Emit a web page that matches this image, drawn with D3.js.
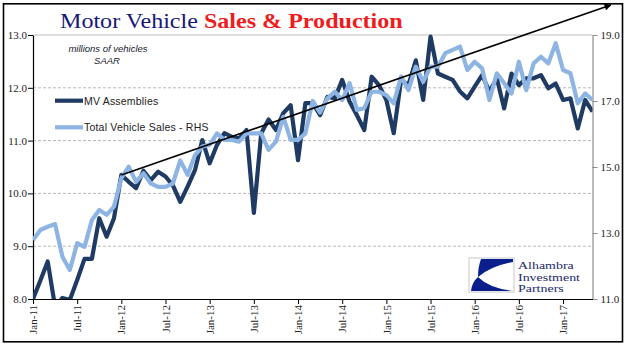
<!DOCTYPE html>
<html><head><meta charset="utf-8">
<script src="https://cdn.jsdelivr.net/npm/d3@7"></script>
<style>html,body{margin:0;padding:0;background:#fff;overflow:hidden}</style>
</head><body>
<svg id="c" width="641" height="358"></svg>
<script>
// ---- data ----
const tickLabels = ["Jan-11","Jul-11","Jan-12","Jul-12","Jan-13","Jul-13","Jan-14","Jul-14","Jan-15","Jul-15","Jan-16","Jul-16","Jan-17"];
const leftTicks = [8,9,10,11,12,13];
const rightTicks = [11,13,15,17,19];
// MV Assemblies (left axis), monthly Jan-11 .. May-17
const assemblies = [8.0,8.35,8.71,7.85,8.02,7.98,8.36,8.76,8.76,9.53,9.18,9.53,
  10.35,10.22,10.10,10.43,10.25,10.41,10.32,10.15,9.84,10.13,10.44,11.01,
  10.57,10.92,11.14,11.07,11.04,11.2,9.63,11.14,11.4,11.2,11.52,11.67,
  10.63,11.71,11.71,11.48,11.83,11.8,12.15,11.74,11.48,11.2,12.21,12.05,
  11.77,11.14,12.15,12.05,12.52,11.77,12.97,12.27,12.21,12.15,11.93,11.8,
  12.02,12.24,11.93,12.18,11.61,12.27,12.05,12.18,12.18,12.24,11.99,12.08,
  11.77,11.8,11.23,11.77,11.55];
// Total Vehicle Sales (right axis)
const sales = [12.79,13.09,13.19,13.27,12.28,11.88,12.69,12.58,13.39,13.7,13.55,13.8,
  14.66,15.01,14.55,14.81,14.5,14.4,14.4,14.5,15.2,14.76,15.36,15.62,
  15.67,16.02,15.82,15.82,15.77,16.02,16.02,16.02,15.52,15.77,16.52,15.82,
  15.82,16.02,17.0,16.65,17.08,17.28,17.03,17.54,16.73,16.78,17.28,17.28,
  17.18,16.93,17.74,17.33,18.04,17.58,18.04,18.04,18.45,18.55,18.65,17.94,
  18.19,17.99,17.03,17.84,17.54,17.23,18.19,17.33,18.14,18.34,18.14,18.75,
  17.94,17.84,16.93,17.23,17.03];
const trend = [{m:12, v:10.35},{m:78.5, v:13.57}];
const seriesNames = ["MV Assemblies","Total Vehicle Sales - RHS"];
const logoLines = ["Alhambra","Investment","Partners"];
const colors = {dark:"#1f3b63", light:"#8db4e2"};

// ---- layout ----
const svg = d3.select("#c");
const L=33, R=592.5, T=35, B=299;
const x = d3.scaleLinear().domain([0, assemblies.length-1]).range([L,R]);
const yL = d3.scaleLinear().domain([8,13]).range([B,T]);
const yR = d3.scaleLinear().domain([11,19]).range([B,T]);

svg.append("rect").attr("x",0).attr("y",0).attr("width",641).attr("height",358).attr("fill","#fff");
svg.append("rect").attr("x",3.5).attr("y",3.8).attr("width",619).attr("height",338)
  .attr("fill","none").attr("stroke","#000").attr("stroke-width",1.6);

// gridlines
svg.append("g").selectAll("line").data(leftTicks.filter(d=>d>8)).join("line")
  .attr("x1",L).attr("x2",R).attr("y1",d=>yL(d)).attr("y2",d=>yL(d))
  .attr("stroke",d=>d===13?"#bdbdbd":"#b8b8b8").attr("stroke-width",1)
  .attr("stroke-dasharray",d=>d===13?null:"3,2");

// axes
const fontSerif = "'Liberation Serif','Times New Roman',serif";
const gl = svg.append("g").attr("transform",`translate(${L},0)`)
  .call(d3.axisLeft(yL).tickValues(leftTicks).tickFormat(d3.format(".1f")).tickSize(5).tickSizeOuter(0));
gl.select(".domain").attr("stroke","#000").attr("stroke-width",1.2);
gl.selectAll(".tick line").attr("stroke","#000");
gl.selectAll("text").attr("font-family",fontSerif).attr("font-size",11).attr("fill","#222").attr("x",-6);

const gr = svg.append("g").attr("transform",`translate(${R},0)`)
  .call(d3.axisRight(yR).tickValues(rightTicks).tickFormat(d3.format(".1f")).tickSize(5).tickSizeOuter(0));
gr.select(".domain").attr("stroke","#8c8c8c").attr("stroke-width",1.2);
gr.selectAll(".tick line").attr("stroke","#8c8c8c");
gr.selectAll("text").attr("font-family",fontSerif).attr("font-size",11).attr("fill","#222").attr("x",8);

const gb = svg.append("g").attr("transform",`translate(0,${B})`)
  .call(d3.axisBottom(x).tickValues(d3.range(0, assemblies.length, 6)).tickFormat(d=>tickLabels[d/6]).tickSize(5).tickSizeOuter(0));
gb.select(".domain").attr("stroke","#000").attr("stroke-width",1.2);
gb.selectAll(".tick line").attr("stroke","#000");
gb.selectAll("text").attr("font-family",fontSerif).attr("font-size",11).attr("fill","#222")
  .attr("transform","rotate(-90)").attr("text-anchor","end").attr("x",-6).attr("y",0).attr("dy","0.33em");

// clip
svg.append("clipPath").attr("id","plot").append("rect").attr("x",L).attr("y",T-4).attr("width",R-L).attr("height",B-T+4);

const lineL = d3.line().x((d,i)=>x(i)).y(d=>yL(d));
const lineR = d3.line().x((d,i)=>x(i)).y(d=>yR(d));
const gp = svg.append("g").attr("clip-path","url(#plot)");
gp.append("path").attr("d",lineL(assemblies)).attr("fill","none").attr("stroke",colors.dark)
  .attr("stroke-width",4.2).attr("stroke-linejoin","round");
gp.append("path").attr("d",lineR(sales)).attr("fill","none").attr("stroke",colors.light)
  .attr("stroke-width",4.2).attr("stroke-linejoin","round");

// trend arrow
svg.append("defs").append("marker").attr("id","arr").attr("viewBox","0 0 10 10").attr("refX",9).attr("refY",5)
  .attr("markerWidth",8).attr("markerHeight",7).attr("orient","auto").attr("markerUnits","userSpaceOnUse")
  .append("path").attr("d","M0,0L10,5L0,10Z").attr("fill","#000");
svg.append("line").attr("x1",x(trend[0].m)).attr("y1",yL(trend[0].v)).attr("x2",x(trend[1].m)).attr("y2",yL(trend[1].v))
  .attr("stroke","#000").attr("stroke-width",1.6).attr("marker-end","url(#arr)");

// legend
const fontSans = "'Liberation Sans',Arial,sans-serif";
const lg = svg.append("g");
[[colors.dark,100.7],[colors.light,127.3]].forEach((c,i)=>{
  lg.append("line").attr("x1",55).attr("x2",83).attr("y1",c[1]).attr("y2",c[1]).attr("stroke",c[0]).attr("stroke-width",4.2);
  lg.append("text").attr("x",84).attr("y",c[1]+4).attr("font-family",fontSans).attr("font-size",10.5).attr("fill","#222")
    .attr("letter-spacing",0.2).text(seriesNames[i]);
});
svg.append("text").attr("x",108).attr("y",51.5).attr("text-anchor","middle").attr("font-family",fontSans)
  .attr("font-style","italic").attr("font-size",9.5).attr("fill","#1a1a2e").text("millions of vehicles");
svg.append("text").attr("x",107).attr("y",64).attr("text-anchor","middle").attr("font-family",fontSans)
  .attr("font-style","italic").attr("font-size",9.5).attr("fill","#1a1a2e").text("SAAR");

// title
const tg = svg.append("g").attr("transform","translate(60,28)");
const tt = tg.append("text").attr("font-family",fontSerif).attr("font-size",22);
tt.append("tspan").attr("fill","#17177a").text("Motor Vehicle ");
tt.append("tspan").attr("fill","#ee1c1c").attr("font-weight","bold").text("Sales & Production");
const tw = tt.node().getComputedTextLength();
tt.attr("transform",`scale(${343/tw},1)`);

// logo
const lx=469, ly=258;
const logo = svg.append("g");
logo.append("rect").attr("x",lx).attr("y",ly).attr("width",45).attr("height",34).attr("fill","#fff").attr("stroke","#c8c8c8").attr("stroke-width",1);
logo.append("path").attr("fill","#0a1e8c")
  .attr("d",`M${lx+12},${ly+1} L${lx+44},${ly+1} L${lx+44},${ly+4} Q${lx+22},${ly+8} ${lx+9},${ly+19} Q${lx+9},${ly+9} ${lx+12},${ly+1} Z`);
logo.append("path").attr("fill","#0a1e8c")
  .attr("d",`M${lx+9},${ly+19} Q${lx+20},${ly+30} ${lx+44},${ly+33} L${lx+2},${ly+33} Q${lx+3},${ly+24} ${lx+9},${ly+19} Z`);
logoLines.forEach((t,i)=>{
  logo.append("g").attr("transform",`translate(518,${269+i*11.5}) scale(1.33,1)`)
    .append("text").attr("x",0).attr("y",0).attr("font-family",fontSerif).attr("font-size",10.5)
    .attr("fill","#1b2a6b").text(t);
});
</script>
</body></html>
